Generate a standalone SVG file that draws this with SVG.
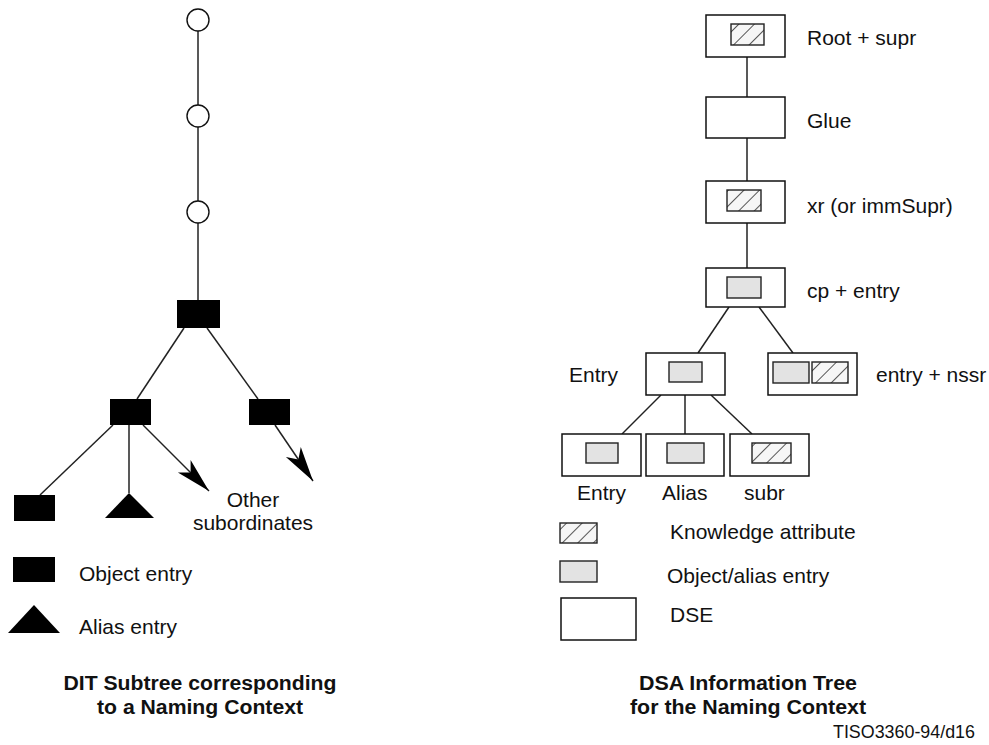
<svg xmlns="http://www.w3.org/2000/svg" width="989" height="745" viewBox="0 0 989 745">
<style>
  .lbl { font-family: "Liberation Sans", Arial, sans-serif; font-size: 21px; fill: #111; }
  .ttl { font-family: "Liberation Sans", Arial, sans-serif; font-size: 20px; font-weight: bold; fill: #111; }
  .ref { font-family: "Liberation Sans", Arial, sans-serif; font-size: 18px; fill: #111; }
  .edge { stroke: #222; stroke-width: 1.5; fill: none; }
  .circ { fill: #fff; stroke: #111; stroke-width: 1.4; }
  .obj { fill: #000; }
  .dse { fill: #fff; stroke: #111; stroke-width: 1.5; }
  .gray { fill: #e3e3e3; stroke: #222; stroke-width: 1.4; }
  .hatch { fill: url(#hatch); stroke: #222; stroke-width: 1.4; }
</style>
<defs>
  <pattern id="hatch" patternUnits="userSpaceOnUse" width="11" height="11" patternTransform="rotate(45)">
    <rect width="11" height="11" fill="#f6f6f6"/>
    <line x1="0" y1="0" x2="0" y2="11" stroke="#111" stroke-width="1.4"/>
  </pattern>
  <marker id="arr" viewBox="-36 -10 37 20" refX="0" refY="0" markerWidth="37" markerHeight="20" markerUnits="userSpaceOnUse" orient="auto">
    <path d="M0,0 L-35,-9 L-26,0 L-35,9 Z" fill="#000"/>
  </marker>
</defs>

<g id="connectors">
  <line class="edge" x1="198" y1="31" x2="198" y2="105"/>
  <line class="edge" x1="198" y1="127" x2="198" y2="201"/>
  <line class="edge" x1="198" y1="223" x2="198" y2="300"/>
  <line class="edge" x1="184" y1="328" x2="137" y2="399"/>
  <line class="edge" x1="207" y1="328" x2="258" y2="399"/>
  <line class="edge" x1="113" y1="425" x2="40" y2="495"/>
  <line class="edge" x1="129" y1="425" x2="129" y2="493"/>
  <line class="edge" x1="143" y1="425" x2="209" y2="491" marker-end="url(#arr)"/>
  <line class="edge" x1="275" y1="425" x2="313" y2="481" marker-end="url(#arr)"/>

  <line class="edge" x1="747" y1="57" x2="747" y2="97"/>
  <line class="edge" x1="747" y1="138" x2="747" y2="181"/>
  <line class="edge" x1="747" y1="223" x2="747" y2="268"/>
  <line class="edge" x1="729" y1="307" x2="698" y2="353"/>
  <line class="edge" x1="759" y1="307" x2="793" y2="353"/>
  <line class="edge" x1="661" y1="395" x2="622" y2="434"/>
  <line class="edge" x1="685" y1="395" x2="685" y2="434"/>
  <line class="edge" x1="711" y1="395" x2="752" y2="434"/>
</g>

<!-- Left tree -->
<g id="c1"><circle class="circ" cx="198" cy="20" r="11"/></g>
<g id="c2"><circle class="circ" cx="198" cy="116" r="11"/></g>
<g id="c3"><circle class="circ" cx="198" cy="212" r="11"/></g>
<g id="o-root"><rect class="obj" x="177" y="300" width="43" height="28"/></g>
<g id="o-left"><rect class="obj" x="110" y="399" width="41" height="26"/></g>
<g id="o-right"><rect class="obj" x="249" y="399" width="41" height="26"/></g>
<g id="o-leaf"><rect class="obj" x="14" y="495" width="41" height="26"/></g>
<g id="alias-leaf"><polygon class="obj" points="129,493 154,518 105,518"/></g>
<g id="other-subordinates">
  <text class="lbl" x="253" y="507" text-anchor="middle">Other</text>
  <text class="lbl" x="253" y="530" text-anchor="middle">subordinates</text>
</g>
<g id="legend-left">
  <rect class="obj" x="13" y="557" width="42" height="25"/>
  <text class="lbl" x="79" y="581">Object entry</text>
  <polygon class="obj" points="34,605 60,633 8,633"/>
  <text class="lbl" x="79" y="634">Alias entry</text>
</g>
<g id="title-left">
  <text class="ttl" x="200" y="690" text-anchor="middle" textLength="273" lengthAdjust="spacingAndGlyphs">DIT Subtree corresponding</text>
  <text class="ttl" x="200" y="714" text-anchor="middle" textLength="206" lengthAdjust="spacingAndGlyphs">to a Naming Context</text>
</g>

<!-- Right tree -->
<g id="root-supr">
  <rect class="dse" x="706" y="15" width="79" height="42"/>
  <rect class="hatch" x="731" y="24" width="33" height="21"/>
  <text class="lbl" x="807" y="45">Root + supr</text>
</g>
<g id="glue">
  <rect class="dse" x="706" y="97" width="79" height="41"/>
  <text class="lbl" x="807" y="128">Glue</text>
</g>
<g id="xr">
  <rect class="dse" x="706" y="181" width="79" height="42"/>
  <rect class="hatch" x="727" y="190" width="34" height="21"/>
  <text class="lbl" x="807" y="213">xr (or immSupr)</text>
</g>
<g id="cp-entry">
  <rect class="dse" x="706" y="268" width="79" height="39"/>
  <rect class="gray" x="727" y="277" width="34" height="21"/>
  <text class="lbl" x="807" y="298">cp + entry</text>
</g>
<g id="entry-mid">
  <rect class="dse" x="646" y="353" width="79" height="42"/>
  <rect class="gray" x="669" y="362" width="33" height="20"/>
  <text class="lbl" x="569" y="382">Entry</text>
</g>
<g id="entry-nssr">
  <rect class="dse" x="768" y="353" width="89" height="42"/>
  <rect class="gray" x="773" y="362" width="36" height="21"/>
  <rect class="hatch" x="812" y="362" width="36" height="21"/>
  <text class="lbl" x="876" y="382">entry + nssr</text>
</g>
<g id="entry-leaf">
  <rect class="dse" x="562" y="434" width="79" height="42"/>
  <rect class="gray" x="586" y="443" width="32" height="20"/>
  <text class="lbl" x="577" y="500">Entry</text>
</g>
<g id="alias-dse">
  <rect class="dse" x="646" y="434" width="78" height="42"/>
  <rect class="gray" x="667" y="443" width="37" height="20"/>
  <text class="lbl" x="662" y="500">Alias</text>
</g>
<g id="subr">
  <rect class="dse" x="730" y="434" width="79" height="42"/>
  <rect class="hatch" x="752" y="443" width="39" height="20"/>
  <text class="lbl" x="744" y="500">subr</text>
</g>
<g id="legend-right">
  <rect class="hatch" x="560" y="523" width="37" height="20"/>
  <text class="lbl" x="670" y="539">Knowledge attribute</text>
  <rect class="gray" x="560" y="561" width="37" height="21"/>
  <text class="lbl" x="667" y="583">Object/alias entry</text>
  <rect class="dse" x="561" y="598" width="75" height="42"/>
  <text class="lbl" x="670" y="622">DSE</text>
</g>
<g id="title-right">
  <text class="ttl" x="748" y="690" text-anchor="middle" textLength="218" lengthAdjust="spacingAndGlyphs">DSA Information Tree</text>
  <text class="ttl" x="748" y="714" text-anchor="middle" textLength="236" lengthAdjust="spacingAndGlyphs">for the Naming Context</text>
  <text class="ref" x="975" y="738" text-anchor="end" textLength="142" lengthAdjust="spacingAndGlyphs">TISO3360-94/d16</text>
</g>
</svg>
